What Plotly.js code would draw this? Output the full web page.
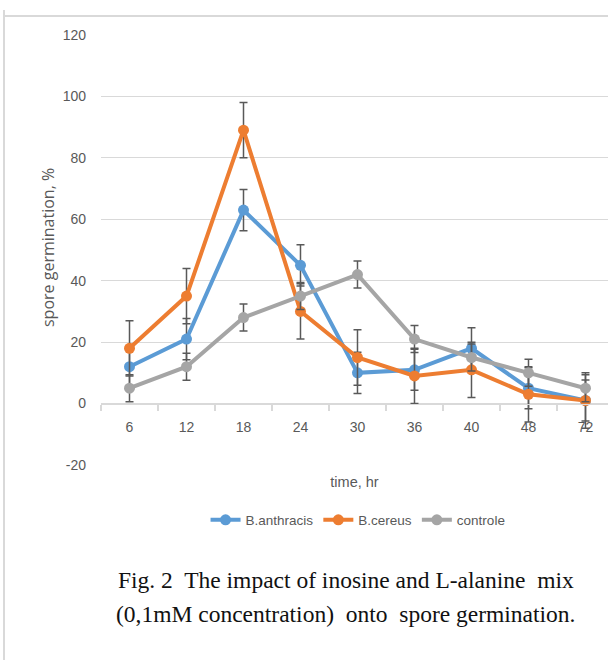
<!DOCTYPE html>
<html>
<head>
<meta charset="utf-8">
<script src="https://cdn.plot.ly/plotly-3.0.1.min.js"></script>
<style>html,body{margin:0;padding:0;background:#fff;}#chart{width:608px;height:660px;}</style>
</head>
<body>
<div id="chart"></div>
<script>
var hours = ['6', '12', '18', '24', '30', '36', '40', '48', '72'];
var anthracis = [12, 21, 63, 45, 10, 11, 18, 5, 1];
var anthracisErr = [6.7, 6.7, 6.7, 6.7, 6.7, 6.7, 6.7, 6.7, 6.7];
var cereus = [18, 35, 89, 30, 15, 9, 11, 3, 1];
var cereusErr = [9, 9, 9, 9, 9, 9, 9, 9, 9];
var controle = [5, 12, 28, 35, 42, 21, 15, 10, 5];
var controleErr = [4.4, 4.4, 4.4, 4.4, 4.4, 4.4, 4.4, 4.4, 4.4];
var yTicks = [-20, 0, 20, 40, 60, 80, 100, 120];
var yTickLabels = ['-20', '0', '20', '40', '60', '80', '100', '120'];

var sans = 'Liberation Sans Narrow, Arial Narrow, Liberation Sans, sans-serif';
var labelGrey = '#595959';

function series(name, y, err, color) {
  return {
    type: 'scatter', mode: 'lines+markers', name: name,
    x: hours, y: y,
    line: {color: color, width: 4},
    marker: {color: color, size: 11},
    error_y: {type: 'data', array: err, visible: true, color: '#595959', thickness: 1.5, width: 4}
  };
}

var data = [
  series('B.anthracis', anthracis, anthracisErr, '#5B9BD5'),
  series('B.cereus', cereus, cereusErr, '#ED7D31'),
  series('controle', controle, controleErr, '#A5A5A5')
];

var layout = {
  width: 608, height: 660,
  margin: {l: 101, r: 0, t: 35, b: 195},
  paper_bgcolor: '#fff', plot_bgcolor: '#fff',
  showlegend: true,
  font: {family: sans, color: labelGrey, size: 14},
  xaxis: {
    type: 'category',
    range: [-0.5, 8.395],
    anchor: 'free', position: 20 / 140,
    showgrid: false, zeroline: false,
    showline: true, linecolor: '#d9d9d9', linewidth: 1.5,
    ticks: 'outside', ticklen: 6, tickcolor: '#d9d9d9', tickwidth: 1.5,
    tickson: 'boundaries',
    ticklabelstandoff: 10,
    tickfont: {family: sans, size: 14, color: labelGrey},
    title: {text: 'time, hr', font: {family: sans, size: 14.5, color: labelGrey}, standoff: 43},
    automargin: true,
    fixedrange: true
  },
  yaxis: {
    range: [-20, 120],
    tickvals: yTicks, ticktext: yTickLabels,
    showgrid: true, gridcolor: '#d9d9d9', gridwidth: 1.2,
    zeroline: false, showline: false, ticks: '',
    ticklabelstandoff: 14,
    tickfont: {family: sans, size: 14, color: labelGrey},
    automargin: false,
    fixedrange: true
  },
  legend: {
    orientation: 'h', x: 0.507, xanchor: 'center', y: -0.128, yanchor: 'middle',
    font: {family: sans, size: 13.5, color: labelGrey},
    itemwidth: 30, tracegroupgap: 0
  },
  shapes: [
    {type: 'line', xref: 'paper', yref: 'paper', x0: -0.1913, x1: 1.02, y0: 1.0442, y1: 1.0442, line: {color: '#d9d9d9', width: 2}},
    {type: 'line', xref: 'paper', yref: 'paper', x0: -0.1913, x1: -0.1913, y0: 1.058, y1: -0.46, line: {color: '#d9d9d9', width: 2}}
  ],
  annotations: [{
    xref: 'paper', yref: 'paper', x: (48 - 101) / 507, y: (465 - 248) / 430, xanchor: 'center', yanchor: 'middle',
    showarrow: false, textangle: -90,
    text: 'spore germination, %',
    font: {family: 'Open Sans, sans-serif', size: 16, color: labelGrey}
  }, {
    xref: 'paper', yref: 'paper', x: (346 - 101) / 507, y: (465 - 580) / 430, xanchor: 'center', yanchor: 'middle',
    showarrow: false, align: 'center',
    text: 'Fig. 2  The impact of inosine and L-alanine  mix',
    font: {family: 'Liberation Serif, Times New Roman, serif', size: 23.5, color: '#111'}
  }, {
    xref: 'paper', yref: 'paper', x: (345 - 101) / 507, y: (465 - 614) / 430, xanchor: 'center', yanchor: 'middle',
    showarrow: false, align: 'center',
    text: '(0,1mM concentration)  onto  spore germination.',
    font: {family: 'Liberation Serif, Times New Roman, serif', size: 23.5, color: '#111'}
  }]
};

Plotly.newPlot('chart', data, layout, {displayModeBar: false, staticPlot: true});
</script>
</body>
</html>
